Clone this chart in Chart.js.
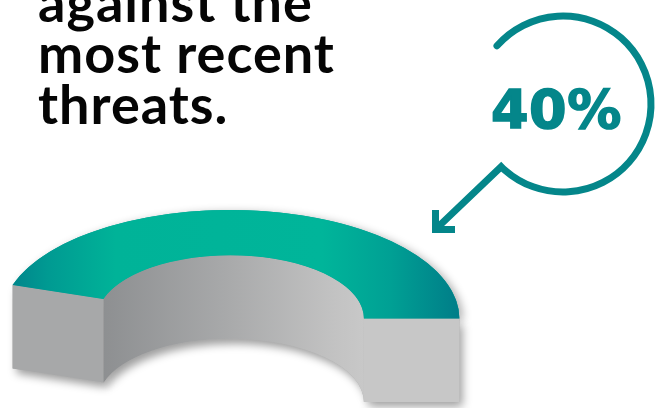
<!DOCTYPE html>
<html>
<head>
<meta charset="utf-8">
<script src="https://cdn.jsdelivr.net/npm/chart.js@4.4.0/dist/chart.umd.min.js"></script>
<style>
  html, body { margin: 0; padding: 0; background: #ffffff; }
  body { width: 664px; height: 408px; overflow: hidden; position: relative; }
  #chart { position: absolute; left: 0; top: 0; }
  .headline { position: absolute; left: 38px; top: -24px; font-family: Lato, "Open Sans", sans-serif; font-weight: 700; font-size: 54px; line-height: 51px; letter-spacing: 1px; color: #050505; white-space: pre; }
  .value { position: absolute; left: 491px; top: 83px; font-family: "DejaVu Sans", sans-serif; font-weight: 700; font-size: 54px; line-height: 54px; color: #04868a; -webkit-text-stroke: 1.6px #04868a; letter-spacing: 0.5px; white-space: pre; }
</style>
</head>
<body>
<canvas id="chart" width="664" height="408"></canvas>
<div class="headline" id="headline"></div>
<div class="value" id="value"></div>
<script>
// ---- data ----
const categories = ['Protected against the most recent threats'];
const values = [40];
const headlineLines = ['against the', 'most recent', 'threats.'];
const valueSuffix = '%';

// ---- layout / style constants ----
const TILT = 0.474;      // vertical squash of the ring (perspective)
const CENTER_Y = 318.5;  // screen y of ring centre
const DEPTH = 83.5;      // extrusion height
const OUTER_R = 229;
const TEAL = '#04868a';

document.getElementById('headline').textContent = headlineLines.join('\n');
document.getElementById('value').textContent = values[0] + valueSuffix;

function topGradient(chart) {
  const ca = chart.chartArea;
  const cx = ca ? (ca.left + ca.right) / 2 - 5.6 : 230;
  const g = chart.ctx.createLinearGradient(cx - OUTER_R, 0, cx + OUTER_R, 0);
  g.addColorStop(0.00, '#007f89');
  g.addColorStop(0.10, '#009a92');
  g.addColorStop(0.25, '#00b398');
  g.addColorStop(0.70, '#00b59a');
  g.addColorStop(0.85, '#00a094');
  g.addColorStop(1.00, '#007d88');
  return g;
}

const ring3d = {
  id: 'ring3d',
  beforeDatasetsDraw(chart) {
    const arc = chart.getDatasetMeta(0).data[0];
    if (!arc) return;
    const x = arc.x, a0 = arc.startAngle, a1 = arc.endAngle, R = arc.outerRadius, r = arc.innerRadius;
    const ctx = chart.ctx;
    const P = (rho, t, dy) => [x + rho * Math.cos(t), CENTER_Y + TILT * rho * Math.sin(t) + (dy || 0)];
    const innerWall = () => {
      ctx.beginPath();
      ctx.ellipse(x, CENTER_Y, r, TILT * r, 0, a0, a1, false);
      const p = P(r, a1, DEPTH); ctx.lineTo(p[0], p[1]);
      ctx.ellipse(x, CENTER_Y + DEPTH, r, TILT * r, 0, a1, a0, true);
      ctx.closePath();
    };
    const face = (t) => {
      const o = P(R, t), i = P(r, t);
      ctx.beginPath();
      ctx.moveTo(o[0], o[1]); ctx.lineTo(i[0], i[1]);
      ctx.lineTo(i[0], i[1] + DEPTH); ctx.lineTo(o[0], o[1] + DEPTH);
      ctx.closePath();
    };
    const topShape = () => {
      ctx.beginPath();
      ctx.ellipse(x, CENTER_Y, R, TILT * R, 0, a0, a1, false);
      ctx.ellipse(x, CENTER_Y, r, TILT * r, 0, a1, a0, true);
      ctx.closePath();
    };
    // shadow pass
    ctx.save();
    ctx.shadowColor = 'rgba(0,0,0,0.38)';
    ctx.shadowBlur = 9;
    ctx.shadowOffsetX = 4;
    ctx.shadowOffsetY = 5;
    ctx.fillStyle = '#b0b0b0';
    innerWall(); ctx.fill();
    face(a0); ctx.fill();
    face(a1); ctx.fill();
    ctx.restore();
    ctx.save();
    ctx.shadowColor = 'rgba(0,0,0,0.30)';
    ctx.shadowBlur = 8;
    ctx.shadowOffsetX = 4;
    ctx.shadowOffsetY = 2;
    ctx.fillStyle = '#00a094';
    topShape(); ctx.fill();
    ctx.restore();
    // walls
    ctx.save();
    const wg = ctx.createLinearGradient(x - r, 0, x + r, 0);
    wg.addColorStop(0, '#8c8e90');
    wg.addColorStop(0.5, '#a9aaab');
    wg.addColorStop(0.9, '#c3c3c3');
    wg.addColorStop(1, '#c8c8c8');
    ctx.fillStyle = wg; innerWall(); ctx.fill();
    ctx.fillStyle = '#a7a8a9'; face(a0); ctx.fill();
    ctx.fillStyle = '#c7c7c7'; face(a1); ctx.fill();
    ctx.restore();
    // perspective transform for the top surface drawn by Chart.js
    ctx.save();
    ctx.translate(0, CENTER_Y);
    ctx.scale(1, TILT);
    ctx.translate(0, -arc.y);
  },
  afterDatasetsDraw(chart) {
    if (!chart.getDatasetMeta(0).data[0]) return;
    chart.ctx.restore();
  },
  afterDraw(chart) {
    const ctx = chart.ctx;
    ctx.save();
    ctx.strokeStyle = TEAL;
    ctx.lineWidth = 7;
    // circular arrow around the value
    const cx = 563, cy = 104, rr = 88;
    const s = -138.6 * Math.PI / 180, e = 134.6 * Math.PI / 180;
    ctx.lineCap = 'round';
    ctx.lineJoin = 'miter';
    ctx.beginPath();
    ctx.arc(cx, cy, rr, s, e, false);
    ctx.lineTo(438, 227);
    ctx.stroke();
    ctx.lineCap = 'butt';
    ctx.beginPath();
    ctx.moveTo(435.5, 210);
    ctx.lineTo(435.5, 229.5);
    ctx.lineTo(455, 229.5);
    ctx.stroke();
    ctx.restore();
  }
};

new Chart(document.getElementById('chart'), {
  type: 'doughnut',
  data: {
    labels: categories,
    datasets: [{
      data: values,
      backgroundColor: (c) => topGradient(c.chart),
      borderWidth: 0,
      clip: false
    }]
  },
  options: {
    responsive: false,
    animation: false,
    events: [],
    rotation: -72,
    circumference: 162,
    radius: OUTER_R,
    cutout: '58.3%',
    layout: { padding: { left: 0, right: 192, top: 0, bottom: 0 } },
    plugins: { legend: { display: false }, tooltip: { enabled: false } }
  },
  plugins: [ring3d]
});
</script>
</body>
</html>
